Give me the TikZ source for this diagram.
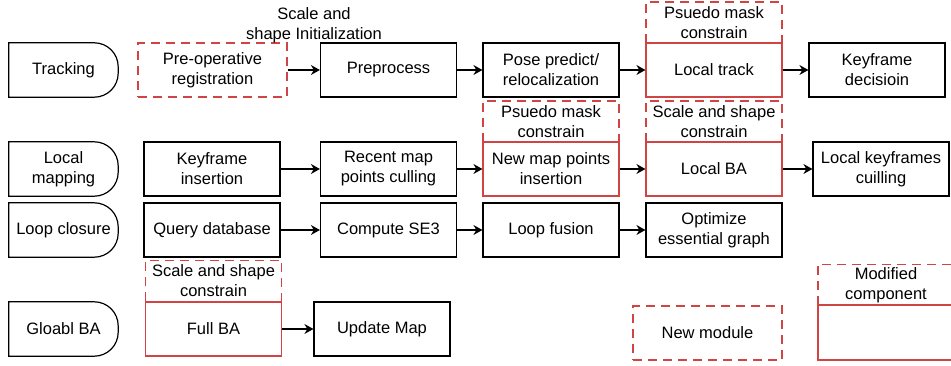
\documentclass[tikz,border=0pt]{standalone}
\usepackage{fontspec}
\setmainfont{Liberation Sans}
\usepackage{tikz}
\usetikzlibrary{positioning,arrows.meta}
\definecolor{modred}{RGB}{208,68,68}

\begin{document}
\begin{tikzpicture}[
    x=1pt, y=-1pt,
    every node/.style={font=\fontsize{16.5}{20}\selectfont, align=center, inner sep=2pt},
    blk/.style={rectangle, draw=black, line width=1.2pt, minimum width=136pt, minimum height=54pt},
    modblk/.style={blk, draw=modred},
    newblk/.style={blk, draw=modred, dash pattern=on 9pt off 6pt},
    wide/.style={minimum width=149pt},
    cons/.style={newblk, minimum height=41pt},
    thread/.style={rectangle, minimum width=109pt, minimum height=54pt},
    arr/.style={-{Stealth[length=9pt,width=10pt,inset=3pt]}, line width=1.2pt, black}
]
\useasboundingbox (0,0) rectangle (951,366);

% Thread labels (left)
\node[thread] (track) at (63.5,70) {Tracking};
\node[thread] (lmap) at (63.5,169) {Local\\mapping};
\node[thread] (loop) at (63.5,230) {Loop closure};
\node[thread] (gba) at (63.5,329) {Gloabl BA};
\foreach \t in {track,lmap,loop,gba}
  \draw[line width=1.2pt] (\t.south west) -- (\t.north west) [rounded corners=24pt] -- (\t.north east) -- (\t.south east) [sharp corners] -- cycle;

% Tracking
\node[newblk, wide] (preop) at (212.5,70) {Pre-operative\\registration};
\node (init) at (314,25) {Scale and\\shape Initialization};
\node[blk] (prep) at (388.5,70) {Preprocess};
\node[blk] (pose) at (551,70) {Pose predict/\\relocalization};
\node[cons] (ltcons) at (714,22.5) {Psuedo mask\\constrain};
\node[modblk] (ltrack) at (714,70) {Local track};
\node[blk] (kfdec) at (877,70) {Keyframe\\decisioin};
\draw[arr] (preop.east) -- (prep.west);
\draw[arr] (prep.east) -- (pose.west);
\draw[arr] (pose.east) -- (ltrack.west);
\draw[arr] (ltrack.east) -- (kfdec.west);

% Local mapping
\node[blk] (kfins) at (212,169) {Keyframe\\insertion};
\node[blk] (cull) at (388.5,169) {Recent map\\points culling};
\node[cons] (nmcons) at (551,121.5) {Psuedo mask\\constrain};
\node[modblk] (nmins) at (551,169) {New map points\\insertion};
\node[cons] (lbcons) at (714,121.5) {Scale and shape\\constrain};
\node[modblk] (lba) at (714,169) {Local BA};
\node[blk] (kfcull) at (881,169) {Local keyframes\\cuilling};
\draw[arr] (kfins.east) -- (cull.west);
\draw[arr] (cull.east) -- (nmins.west);
\draw[arr] (nmins.east) -- (lba.west);
\draw[arr] (lba.east) -- (kfcull.west);

% Loop closure
\node[blk] (query) at (212,230) {Query database};
\node[blk] (se3) at (388.5,230) {Compute SE3};
\node[blk] (fuse) at (551,230) {Loop fusion};
\node[blk] (essg) at (714,230) {Optimize\\essential graph};
\draw[arr] (query.east) -- (se3.west);
\draw[arr] (se3.east) -- (fuse.west);
\draw[arr] (fuse.east) -- (essg.west);

% Global BA
\node[cons] (fbcons) at (213.5,281) {Scale and shape\\constrain};
\node[modblk] (fba) at (213.5,329) {Full BA};
\node[blk] (upd) at (382,329) {Update Map};
\draw[arr] (fba.east) -- (upd.west);

% Legend
\node[newblk, wide] (newmod) at (707.5,333) {New module};
\node[cons] (modtop) at (886,285) {Modified\\component};
\node[modblk, minimum height=55pt] (modbot) at (886,332.5) {};
\end{tikzpicture}
\end{document}
